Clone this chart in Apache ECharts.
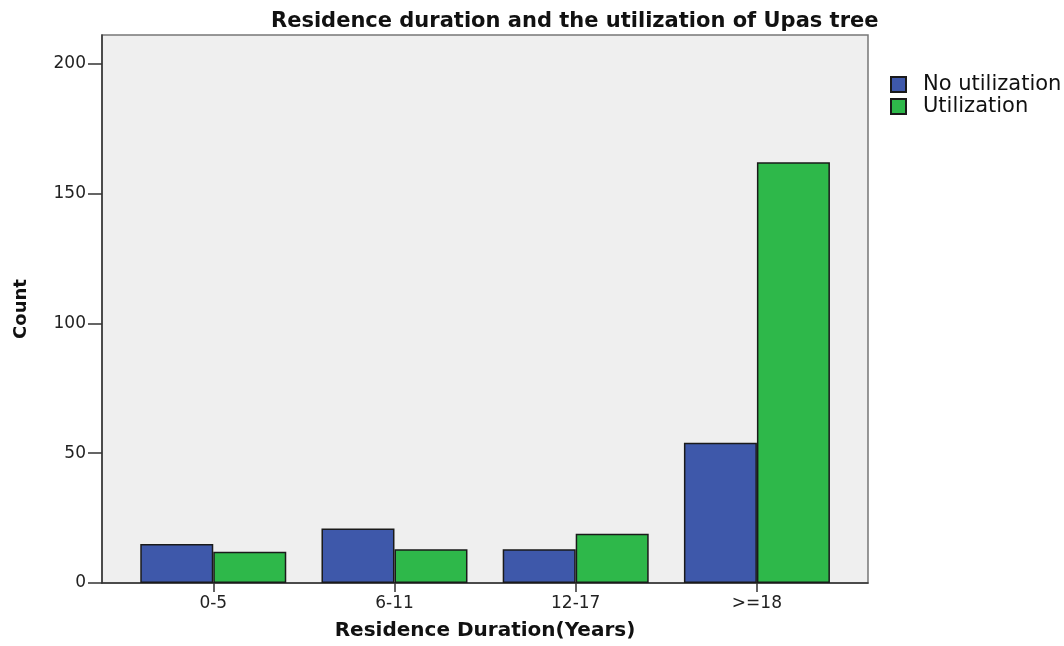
<!DOCTYPE html>
<html>
<head>
<meta charset="utf-8">
<script src="https://cdn.jsdelivr.net/npm/echarts@6/dist/echarts.min.js"></script>
<style>
  html, body { margin: 0; padding: 0; background: #fff; }
  #chart { width: 1064px; height: 646px; }
</style>
</head>
<body>
<div id="chart"></div>
<script>
const categories = ['0-5', '6-11', '12-17', '>=18']
const noUtilization = [15, 21, 13, 54]
const utilization = [12, 13, 19, 162]
const yTicks = [0, 50, 100, 150, 200]

const font = 'DejaVu Sans'
const chart = echarts.init(document.getElementById('chart'), null, { renderer: 'canvas' })

// bars sit on a value x-axis so the frame can extend past the outer categories
const toPoints = (values) => values.map((v, i) => [i, v])

const option = {
  animation: false,
  title: {
    text: 'Residence duration and the utilization of Upas tree',
    left: 266,
    top: 6,
    textStyle: { fontFamily: font, fontSize: 21, fontWeight: 'bold', color: '#111' }
  },
  legend: {
    orient: 'vertical',
    left: 885,
    top: 69,
    itemWidth: 15,
    itemHeight: 15,
    itemGap: 1,
    icon: 'rect',
    textStyle: { fontFamily: font, fontSize: 21, color: '#111', padding: [0, 0, 0, 12] },
    data: ['No utilization', 'Utilization']
  },
  grid: {
    left: 102,
    right: 196,
    top: 35,
    bottom: 57.5,
    show: true,
    backgroundColor: '#efefef',
    borderColor: '#777',
    borderWidth: 1.5
  },
  xAxis: {
    type: 'value',
    min: -0.614,
    max: 3.613,
    name: 'Residence Duration(Years)',
    nameLocation: 'middle',
    nameGap: 38,
    nameTextStyle: { fontFamily: font, fontSize: 20, fontWeight: 'bold', color: '#111' },
    axisLine: { show: true, onZero: false, lineStyle: { color: '#333', width: 1.5 } },
    axisTick: { show: true, length: 9, customValues: [0, 1, 2, 3], lineStyle: { color: '#333', width: 1.5 } },
    axisLabel: {
      customValues: [0, 1, 2, 3],
      formatter: (v) => categories[Math.round(v)],
      margin: 12,
      fontFamily: font,
      fontSize: 17,
      color: '#222'
    },
    splitLine: { show: false }
  },
  yAxis: {
    type: 'value',
    min: 0,
    max: 211,
    name: 'Count',
    nameLocation: 'middle',
    nameGap: 72,
    nameTextStyle: { fontFamily: font, fontSize: 18, fontWeight: 'bold', color: '#111' },
    axisLine: { show: true, onZero: false, lineStyle: { color: '#333', width: 1.5 } },
    axisTick: { show: true, length: 14, customValues: yTicks, lineStyle: { color: '#333', width: 1.5 } },
    axisLabel: {
      customValues: yTicks,
      margin: 16,
      fontFamily: font,
      fontSize: 17,
      color: '#222'
    },
    splitLine: { show: false }
  },
  series: [
    {
      name: 'No utilization',
      type: 'bar',
      data: toPoints(noUtilization),
      barWidth: 73,
      barGap: '0%',
      itemStyle: { color: '#3e58aa', borderColor: '#1a1a1a', borderWidth: 1.5 }
    },
    {
      name: 'Utilization',
      type: 'bar',
      data: toPoints(utilization),
      barWidth: 73,
      barGap: '0%',
      itemStyle: { color: '#2eb84a', borderColor: '#1a1a1a', borderWidth: 1.5 }
    }
  ]
}

chart.setOption(option)
</script>
</body>
</html>
